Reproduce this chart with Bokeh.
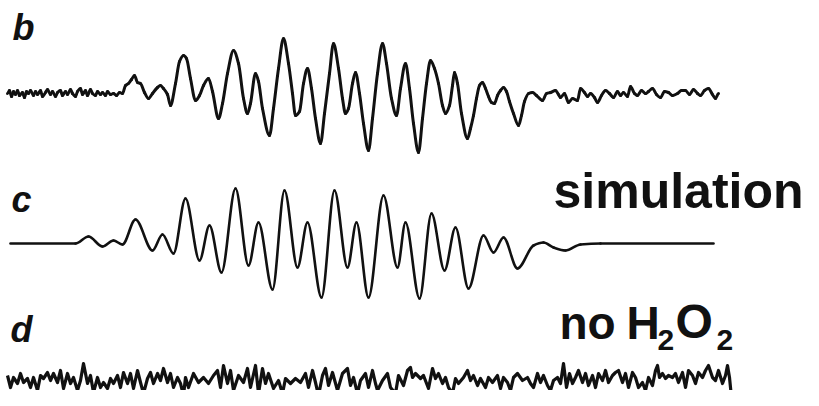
import numpy as np
from bokeh.plotting import figure
from bokeh.models import Range1d, ColumnDataSource
from bokeh.core.properties import value
from bokeh.embed import file_html
from bokeh.resources import INLINE

# ---------------- data (field in arbitrary units, signal amplitude in arbitrary units) ----
# trace b : experimental spectrum
b_x = [7, 9, 11, 13, 15, 17, 19, 22, 24, 26, 28, 30, 33, 35, 37, 40, 42, 45, 47, 50, 52, 55, 57, 60,
       62, 65, 67, 70, 72, 75, 77, 80, 82, 85, 87, 90, 92, 95, 97, 100, 102, 105, 107, 110, 113, 116, 119,
       122, 125, 128, 131, 134, 137, 140, 144, 148, 152, 157, 160, 163, 167, 170, 175, 179, 183, 186, 190,
       195, 199, 203, 208, 212, 218, 222, 227, 233, 238, 243, 247, 250, 255, 258, 262, 269, 273, 278, 283,
       288, 292, 295, 299, 303, 307, 311, 315, 320, 324, 329, 333, 338, 342, 345, 348, 352, 355, 359, 363,
       368, 372, 377, 382, 386, 391, 396, 400, 405, 409, 413, 418, 422, 426, 430, 434, 438, 442, 445, 449,
       452, 454, 457, 461, 467, 470, 473, 476, 479, 482, 485, 488, 491, 494, 497, 500, 503, 506, 509, 513,
       518, 521, 524, 528,
       532, 536, 542, 546, 550, 555, 558, 560, 564, 568, 572, 577, 580, 584, 587, 590, 594, 597, 601, 605,
       609, 613, 617, 620, 623, 627, 630, 634, 637, 641, 645, 648, 652, 656, 660, 664, 668, 672, 677, 681,
       685, 689, 693, 697, 700, 704, 708, 712, 715, 718]
b_y = [0, 3, -3, 2, -1, 3, -2, 1, -4, 2, 0, 3, -2, 2, -1, 3, -3, 1, 4, -1, 2, -3, 1, 3,
       -2, 2, -1, 4, 0, -3, 2, 5, -1, 3, -2, 4, 0, -2, 2, -1, 1, -2, 2, -1, 0, -2, 1,
       0, 8, 10, 14, 18, 11, 10, 1, -5, 0, 6, 8, 5, -1, -12, 10, 32, 38, 35, 15,
       -7, -2, 8, 15, 2, -25, -10, 20, 43, 30, -5, -20, -10, 20, 12, -15, -42, -15, 25, 55,
       30, 0, -22, -18, 10, 25, 5, -25, -50, -20, 20, 50, 25, -5, -20, -15, 10, 21, 0, -30,
       -57, -25, 20, 50, 30, -5, -22, 5, 30, 5, -30, -59, -25, 10, 33, 25, 10, -12, -20, -12,
       8, 21, 10, -20, -45, -35, -22, -5, 8, 11, 5, -3, -9, -10, -2, 3, 6, 2, -8, -20,
       -32, -22, -8, 0,
       1, -2, -7, 0, 1, 3, -1, -4, 0, -9, -5, -7, 5, 1, -3, 0, -4, -9, -2, 3,
       0, -4, 2, -2, 1, -3, 7, 0, -2, 3, 0, 2, 5, -1, -4, 2, 1, -2, 0, 3,
       3, -1, 4, 0, -2, 3, 5, -1, -5, 0]

# trace c : simulation (turning points of the smooth curve)
c_x = [10, 75, 88, 102, 113, 122, 135, 152, 162, 173, 185, 199, 209, 221, 235, 248, 258, 272, 284, 297,
       307, 321, 334, 347, 356, 368, 383, 397, 405, 419, 431, 444, 455, 468, 483, 493, 503, 517, 533, 543,
       553, 565, 580, 600, 713]
c_y = [0, 0, 7, -3, 3, -1, 24, -7, 9, -10, 45, -17, 18, -29, 55, -22, 21, -46, 53, -24,
       21, -54, 53, -24, 21, -54, 48, -24, 21, -55, 30, -27, 16, -45, 8, -9, 6, -25, -2, 1,
       -4, -7, -1, 0, 0]

# trace d : no H2O2 (noise only)
d_x = [7, 10, 13, 17, 20, 23, 27, 30, 33, 37, 40, 43, 47, 50, 53, 57, 60, 63, 67, 70, 73, 77, 80, 83,
       87, 90, 93, 97, 100, 103, 107, 110, 113, 117, 120, 123, 127, 130, 133, 137, 140, 143, 147, 150,
       153, 157, 160, 163, 167, 170, 173, 177, 180, 183, 185, 188,
       193, 198, 203, 208, 213, 217, 220, 223, 227, 230, 233, 238, 243, 247, 250, 255, 258, 262, 265, 268,
       273, 278, 282, 285, 290, 295, 300, 305, 308, 312, 315, 318, 322, 325, 328, 332, 337, 342, 347, 350,
       353, 357, 360, 365, 368, 372, 375,
       377, 382, 387, 390, 395, 398, 403, 407, 410, 412, 415, 420, 423, 428, 432, 435, 438, 442, 445, 448,
       452, 455, 458, 463, 467, 470, 473, 477, 480, 485, 488, 492, 497, 500, 503, 507, 510, 513, 517, 522,
       527, 530, 533, 537, 540, 543, 547, 550, 553, 557,
       560, 563, 566, 569, 572, 575, 578, 582, 585, 588, 592, 595, 598, 602, 605, 608, 612, 615, 618, 622,
       625, 628, 632, 635, 638, 642, 645, 648, 652, 655, 657, 659, 662, 665, 668, 672, 675, 678, 682, 685,
       688, 692, 695, 698, 702, 705, 708, 712, 715, 718, 722, 725, 727, 729, 731]
d_y = [3, -9, 1, -5, 5, -4, 0, -9, 1, -12, 3, 0, 6, -2, 5, -4, 8, -10, 5, -5, 1, -12, -2, 15,
       -5, 3, -14, 1, -9, -4, -10, 0, -5, 3, -9, 6, -5, 5, -10, 8, -4, -15, 0, 6,
       -5, 5, -2, 10, -4, 5, -9, 1, -5, -17, 1, -9,
       5, -4, 1, -5, 3, 8, -9, 13, -5, 8, -12, 3, -4, 10, -9, 13, -15, 10, -5, 5,
       -10, -2, -15, 0, -5, 0, -4, 5, -9, 8, -4, -17, 3, 10, -7, 6, -12, 5, 10, -7,
       1, -15, -2, 5, -9, 8, -5,
       -12, -2, 5, -9, -15, 3, -7, 8, 11, 1, 5, 0, 3, -10, 10, 0, 5, -5, 1, -9,
       -15, 0, -5, 1, 8, -2, 3, -7, 0, -9, 1, -4, 3, -10, 1, -4, -12, 1, 5, -2,
       1, -5, -9, 5, -4, 3, -7, -12, -2, 1,
       -5, 15, -9, 5, -5, 1, 8, -4, 5, -7, 3, -9, 5, -2, 8, -4, 3, 6, 8, -4,
       5, -9, 6, 1, -9, -4, -12, 1, -7, 8, 13, 1, 5, 0, 3, 1, 5, -4, 6, -9,
       8, 3, -5, 6, 1, 8, 13, 1, -2, 8, -5, 3, 13, 1, -19]

trace_labels = ["b", "c", "d"]
note_sim = "simulation"

# ---------------- layout constants ----------------
W, H = 803, 390
BASE_B, BASE_C, BASE_D = 305, 155, 20
FONT = "Liberation Sans"
INK = "#111111"


def monotone_bezier(x, y, offset):
    x = np.asarray(x, float)
    y = np.asarray(y, float) + offset
    dx = np.diff(x)
    s = np.diff(y) / dx
    m = np.zeros_like(y)
    for i in range(1, len(y) - 1):
        if s[i - 1] * s[i] > 0:
            m[i] = 2.0 / (1.0 / s[i - 1] + 1.0 / s[i])
    return ColumnDataSource(dict(
        x0=x[:-1], y0=y[:-1], x1=x[1:], y1=y[1:],
        cx0=x[:-1] + dx / 3, cy0=y[:-1] + m[:-1] * dx / 3,
        cx1=x[1:] - dx / 3, cy1=y[1:] - m[1:] * dx / 3,
    ))


p = figure(width=W, height=H, output_backend="svg", toolbar_location=None,
           x_range=Range1d(0, W), y_range=Range1d(8, 8 + H), min_border=0)
p.axis.visible = False
p.grid.visible = False
p.outline_line_color = None
p.background_fill_color = "white"
p.border_fill_color = "white"

# trace b (experimental)
p.bezier(x0="x0", y0="y0", x1="x1", y1="y1", cx0="cx0", cy0="cy0", cx1="cx1", cy1="cy1",
         source=monotone_bezier(b_x, b_y, BASE_B), line_color=INK, line_width=3.0, line_cap="round")
# trace c (simulation)
p.bezier(x0="x0", y0="y0", x1="x1", y1="y1", cx0="cx0", cy0="cy0", cx1="cx1", cy1="cy1",
         source=monotone_bezier(c_x, c_y, BASE_C), line_color=INK, line_width=2.6, line_cap="round")
# trace d (no H2O2)
p.line(np.asarray(d_x), np.asarray(d_y) + BASE_D, line_color=INK, line_width=3.2, line_join="round")

# panel letters
p.text(x=[12, 11, 10], y=[371, 199, 69], text=trace_labels, text_font=value(FONT),
       text_font_size="36px", text_font_style="bold italic", text_color=INK,
       text_baseline="alphabetic", text_align="left")

p.text(x=[553], y=[208], text=[note_sim], text_font=value(FONT), text_font_size="50px",
       text_font_style="bold", text_color=INK, text_baseline="alphabetic")

# "no H2O2" with subscripts
p.text(x=[559, 626], y=[76, 76], text=["no", "H"], text_font=value(FONT),
       text_font_size="46px", text_font_style="bold", text_color=INK, text_baseline="alphabetic")
p.text(x=[675], y=[77], text=["O"], text_font=value(FONT),
       text_font_size="48px", text_font_style="bold", text_color=INK, text_baseline="alphabetic")
p.text(x=[657, 716], y=[59, 59], text=["2", "2"], text_font=value(FONT), text_font_size="30px",
       text_font_style="bold", text_color=INK, text_baseline="alphabetic")

open("out.html", "w").write(file_html(p, INLINE))
